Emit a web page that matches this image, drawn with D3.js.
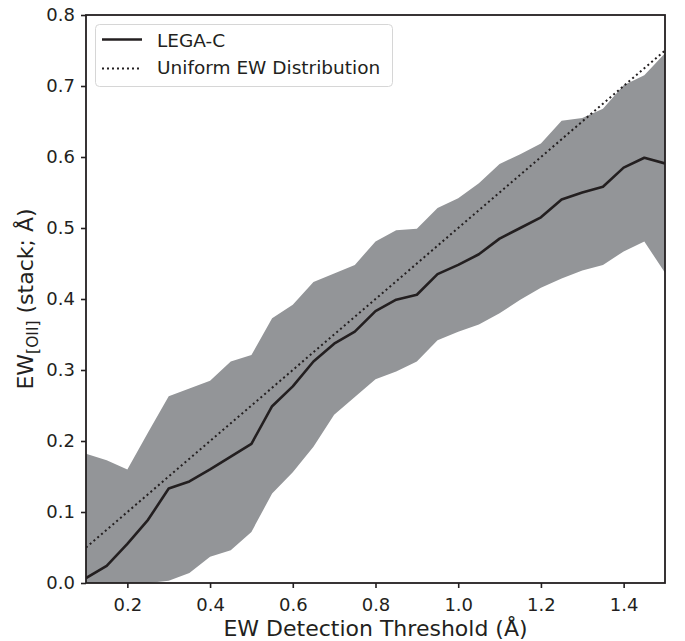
<!DOCTYPE html>
<html>
<head>
<meta charset="utf-8">
<script src="https://cdn.jsdelivr.net/npm/d3@7"></script>
<style>
  html, body { margin: 0; padding: 0; background: #fff; }
  svg { display: block; font-family: "DejaVu Sans", sans-serif; }
</style>
</head>
<body>
<svg id="chart" width="685" height="641"></svg>
<script>
// EW detection thresholds (Å)
const thresholds = [0.10, 0.15, 0.20, 0.25, 0.30, 0.35, 0.40, 0.45, 0.50, 0.55,
                    0.60, 0.65, 0.70, 0.75, 0.80, 0.85, 0.90, 0.95, 1.00, 1.05,
                    1.10, 1.15, 1.20, 1.25, 1.30, 1.35, 1.40, 1.45, 1.50];
// LEGA-C stacked [OII] EW
const legacMedian = [0.007, 0.024, 0.055, 0.089, 0.133, 0.143, 0.160, 0.178, 0.196, 0.249,
                     0.277, 0.312, 0.337, 0.354, 0.383, 0.399, 0.406, 0.435, 0.448, 0.463,
                     0.485, 0.500, 0.515, 0.540, 0.550, 0.558, 0.585, 0.599, 0.591];
const legacUpper  = [0.182, 0.173, 0.160, 0.212, 0.263, 0.274, 0.285, 0.312, 0.321, 0.373,
                     0.392, 0.424, 0.436, 0.448, 0.481, 0.497, 0.499, 0.528, 0.542, 0.563,
                     0.590, 0.604, 0.619, 0.651, 0.655, 0.668, 0.701, 0.715, 0.746];
const legacLower  = [0.000, 0.000, 0.000, 0.000, 0.003, 0.014, 0.037, 0.046, 0.072, 0.126,
                     0.156, 0.192, 0.237, 0.262, 0.287, 0.298, 0.312, 0.342, 0.354, 0.364,
                     0.380, 0.399, 0.416, 0.429, 0.440, 0.448, 0.467, 0.481, 0.437];
// Expected stacked EW for a uniform EW distribution
const uniformEW   = [0.050, 0.075, 0.100, 0.125, 0.150, 0.175, 0.200, 0.225, 0.250, 0.275,
                     0.300, 0.325, 0.350, 0.375, 0.400, 0.425, 0.450, 0.475, 0.500, 0.525,
                     0.550, 0.575, 0.600, 0.625, 0.650, 0.675, 0.700, 0.725, 0.750];
const xTicks = [0.2, 0.4, 0.6, 0.8, 1.0, 1.2, 1.4];
const yTicks = [0.0, 0.1, 0.2, 0.3, 0.4, 0.5, 0.6, 0.7, 0.8];

const ink = "#231f20";
const dotDash = "2,3";
const margin = { left: 86, right: 20, top: 15, bottom: 58 };
const W = 685, H = 641;
const svg = d3.select("#chart");

const x = d3.scaleLinear().domain([0.1, 1.5]).range([margin.left, W - margin.right]);
const y = d3.scaleLinear().domain([0, 0.8]).range([H - margin.bottom, margin.top]);

const rows = thresholds.map((t, i) => ({
  t, med: legacMedian[i], lo: legacLower[i], hi: legacUpper[i], uni: uniformEW[i]
}));

svg.append("defs").append("clipPath").attr("id", "plotClip")
  .append("rect")
  .attr("x", x.range()[0]).attr("y", y.range()[1])
  .attr("width", x.range()[1] - x.range()[0])
  .attr("height", y.range()[0] - y.range()[1]);

const plot = svg.append("g").attr("clip-path", "url(#plotClip)");

// scatter band
plot.append("path")
  .datum(rows)
  .attr("fill", "#939598")
  .attr("stroke", "none")
  .attr("d", d3.area().x(d => x(d.t)).y0(d => y(d.lo)).y1(d => y(d.hi)));

// uniform distribution expectation
plot.append("path")
  .datum(rows)
  .attr("fill", "none")
  .attr("stroke", ink)
  .attr("stroke-width", 2)
  .attr("stroke-dasharray", dotDash)
  .attr("d", d3.line().x(d => x(d.t)).y(d => y(d.uni)));

// LEGA-C median
plot.append("path")
  .datum(rows)
  .attr("fill", "none")
  .attr("stroke", ink)
  .attr("stroke-width", 2.6)
  .attr("stroke-linejoin", "round")
  .attr("d", d3.line().x(d => x(d.t)).y(d => y(d.med)));

// axes
const tickFmt = d3.format(".1f");
const xAxis = svg.append("g")
  .attr("transform", `translate(0,${y.range()[0]})`)
  .call(d3.axisBottom(x).tickValues(xTicks).tickFormat(tickFmt).tickSize(5).tickPadding(6));
const yAxis = svg.append("g")
  .attr("transform", `translate(${x.range()[0]},0)`)
  .call(d3.axisLeft(y).tickValues(yTicks).tickFormat(tickFmt).tickSize(5).tickPadding(6));

[xAxis, yAxis].forEach(g => {
  g.select(".domain").remove();
  g.selectAll(".tick line").attr("stroke", ink).attr("stroke-width", 1.6);
  g.selectAll(".tick text")
    .attr("fill", ink)
    .style("font-size", "18px")
    .style("font-family", "'DejaVu Sans', sans-serif");
});
xAxis.selectAll(".tick text").attr("dy", "0.95em");

// frame
svg.append("rect")
  .attr("x", x.range()[0]).attr("y", y.range()[1])
  .attr("width", x.range()[1] - x.range()[0])
  .attr("height", y.range()[0] - y.range()[1])
  .attr("fill", "none")
  .attr("stroke", ink)
  .attr("stroke-width", 1.8);

// axis titles
svg.append("text")
  .attr("x", (x.range()[0] + x.range()[1]) / 2)
  .attr("y", 636)
  .attr("text-anchor", "middle")
  .attr("fill", ink)
  .style("font-size", "22px")
  .text("EW Detection Threshold (Å)");

const yTitle = svg.append("text")
  .attr("transform", `translate(33,${(y.range()[0] + y.range()[1]) / 2}) rotate(-90)`)
  .attr("text-anchor", "middle")
  .attr("fill", ink)
  .style("font-size", "22px");
yTitle.append("tspan").text("EW");
yTitle.append("tspan").attr("dy", 5).style("font-size", "15.5px").text("[OII]");
yTitle.append("tspan").attr("dy", -5).text(" (stack; Å)");

// legend
const legend = svg.append("g");
legend.append("rect")
  .attr("x", 95.5).attr("y", 24.5)
  .attr("width", 297).attr("height", 62)
  .attr("rx", 4).attr("ry", 4)
  .attr("fill", "#fff").attr("fill-opacity", 0.8)
  .attr("stroke", "#d6d6d6").attr("stroke-width", 1);

const legendItems = [
  { label: "LEGA-C", width: 2.6, dash: null, ly: 39.5, ty: 46.5 },
  { label: "Uniform EW Distribution", width: 2, dash: dotDash, ly: 68.5, ty: 74 }
];
legendItems.forEach(it => {
  legend.append("line")
    .attr("x1", 102).attr("x2", 142)
    .attr("y1", it.ly).attr("y2", it.ly)
    .attr("stroke", ink)
    .attr("stroke-width", it.width)
    .attr("stroke-dasharray", it.dash);
  legend.append("text")
    .attr("x", 157).attr("y", it.ty)
    .attr("fill", ink)
    .style("font-size", "18.5px")
    .text(it.label);
});
</script>
</body>
</html>
